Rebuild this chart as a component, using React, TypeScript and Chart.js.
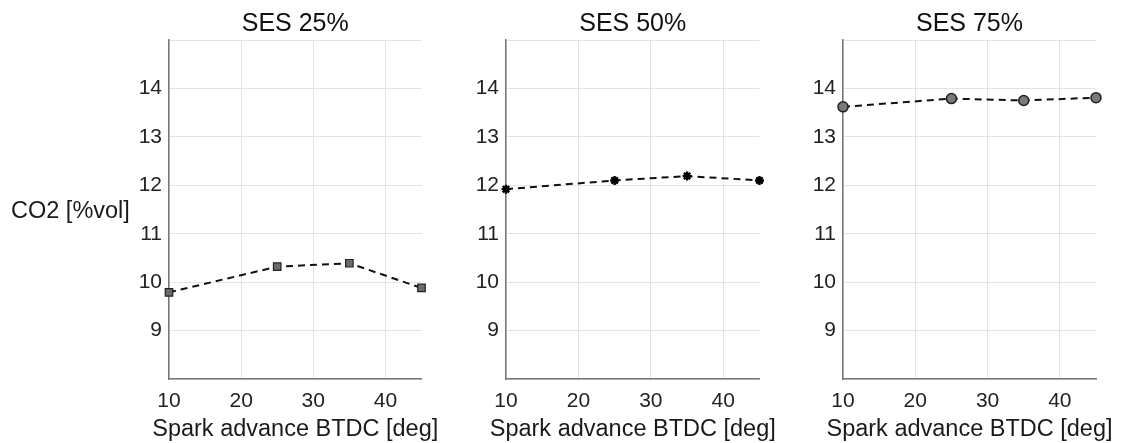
import React, { useEffect, useRef } from "react";
import { Chart, registerables } from "chart.js";

Chart.register(...registerables);

const xValues = [10, 25, 35, 45];
const ses25 = [9.79, 10.32, 10.39, 9.88];
const ses50 = [11.92, 12.1, 12.19, 12.1];
const ses75 = [13.62, 13.79, 13.75, 13.81];
const panelTitles = ["SES 25%", "SES 50%", "SES 75%"];
const xTicks = [10, 20, 30, 40];
const yTicks = [8, 9, 10, 11, 12, 13, 14, 15];
const yLabelTicks = [9, 10, 11, 12, 13, 14];
const xTitle = "Spark advance BTDC [deg]";
const yTitle = "CO2 [%vol]";

const FONT = "'Liberation Sans', Arial, Helvetica, sans-serif";

type PanelSpec = {
  left: number;
  width: number;
  yWidth: number;
  rightPad: number;
  title: string;
  values: number[];
  pointStyle: string;
  radius: number;
  fill: string;
  border: string;
  borderWidth: number;
  showYTitle: boolean;
};

const panels: PanelSpec[] = [
  { left: 0, width: 440, yWidth: 169, rightPad: 18.5, title: panelTitles[0], values: ses25, pointStyle: "rect", radius: 5.3, fill: "#6b6b6b", border: "#222", borderWidth: 1.2, showYTitle: true },
  { left: 440, width: 340, yWidth: 66, rightPad: 20.5, title: panelTitles[1], values: ses50, pointStyle: "star", radius: 4.5, fill: "#000", border: "#000", borderWidth: 2.4, showYTitle: false },
  { left: 780, width: 341, yWidth: 63, rightPad: 25, title: panelTitles[2], values: ses75, pointStyle: "circle", radius: 5, fill: "#7a7a7a", border: "#222", borderWidth: 1.5, showYTitle: false },
];

const textPlugin = {
  id: "panelTexts",
  afterDraw(chart: any, _args: any, opts: any) {
    const { ctx, chartArea } = chart;
    const cx = (chartArea.left + chartArea.right) / 2;
    ctx.save();
    ctx.textBaseline = "middle";
    // panel title
    ctx.font = `25px ${FONT}`;
    ctx.fillStyle = "#111";
    ctx.textAlign = "center";
    ctx.fillText(opts.title, cx, 24.5);
    // x axis title
    ctx.font = `23.5px ${FONT}`;
    ctx.fillStyle = "#1a1a1a";
    ctx.fillText(xTitle, cx, 429.5);
    // y axis title (horizontal)
    if (opts.showYTitle) {
      ctx.textAlign = "left";
      ctx.fillText(yTitle, 11, (chartArea.top + chartArea.bottom) / 2 + 2);
    }
    ctx.restore();
  },
};

function Panel({ spec }: { spec: PanelSpec }) {
  const ref = useRef<HTMLCanvasElement | null>(null);
  useEffect(() => {
    if (!ref.current) return;
    const chart = new Chart(ref.current, {
      type: "line",
      data: {
        datasets: [
          {
            data: xValues.map((x, i) => ({ x, y: spec.values[i] })),
            borderColor: "#111",
            borderWidth: 2,
            borderDash: [7, 5],
            pointStyle: spec.pointStyle as any,
            pointRadius: spec.radius,
            pointBackgroundColor: spec.fill,
            pointBorderColor: spec.border,
            pointBorderWidth: spec.borderWidth,
            tension: 0,
            fill: false,
            clip: false as any,
          },
        ],
      },
      plugins: [textPlugin],
      options: {
        responsive: true,
        maintainAspectRatio: false,
        animation: false,
        layout: { padding: { left: 0, right: spec.rightPad, top: 40, bottom: 0 } },
        plugins: {
          legend: { display: false },
          tooltip: { enabled: false },
          title: { display: false },
          panelTexts: { title: spec.title, showYTitle: spec.showYTitle },
        } as any,
        scales: {
          x: {
            type: "linear",
            min: 10,
            max: 45,
            afterBuildTicks: (axis: any) => {
              axis.ticks = xTicks.map((v) => ({ value: v }));
            },
            afterFit: (axis: any) => {
              axis.height = 64;
            },
            ticks: {
              color: "#222",
              font: { family: FONT, size: 21 },
              padding: 10,
              maxRotation: 0,
              autoSkip: false,
            },
            grid: { color: "#e3e3e3", lineWidth: 1, drawTicks: false },
            border: { display: true, color: "#777", width: 1.5 },
          },
          y: {
            type: "linear",
            min: 8,
            max: 15,
            afterBuildTicks: (axis: any) => {
              axis.ticks = yTicks.map((v) => ({ value: v }));
            },
            afterFit: (axis: any) => {
              axis.width = spec.yWidth;
            },
            ticks: {
              color: "#222",
              font: { family: FONT, size: 21 },
              padding: 7,
              autoSkip: false,
              callback: (v: any) => (yLabelTicks.includes(Number(v)) ? String(v) : ""),
            },
            grid: { color: "#e3e3e3", lineWidth: 1, drawTicks: false },
            border: { display: true, color: "#777", width: 1.5 },
          },
        },
      },
    });
    return () => chart.destroy();
  }, [spec]);
  return (
    <div style={{ position: "absolute", left: spec.left, top: 0, width: spec.width, height: 443 }}>
      <canvas ref={ref} />
    </div>
  );
}

export default function App() {
  return (
    <div style={{ position: "fixed", left: 0, top: 0, width: 1121, height: 443, background: "#fff", overflow: "hidden" }}>
      {panels.map((p, i) => (
        <Panel key={i} spec={p} />
      ))}
    </div>
  );
}
